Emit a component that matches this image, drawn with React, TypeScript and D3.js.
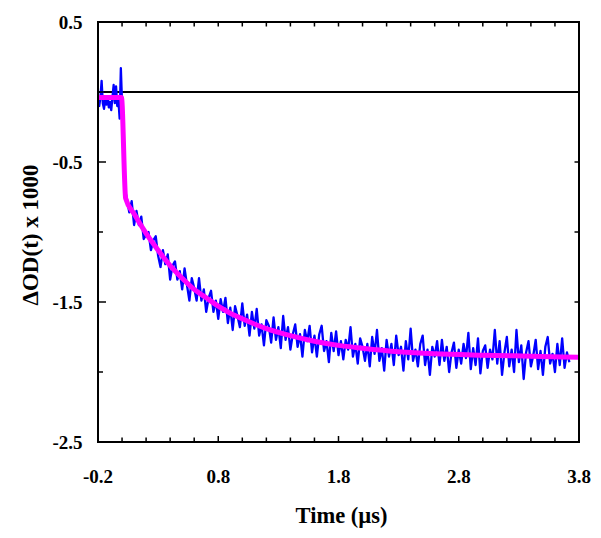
import React from "react";
import * as d3 from "d3";

// ---- data ----
// Pre-trigger trace: t = -0.20 .. 0.02 (step 0.01)
const preTriggerStart = -0.2;
const preTriggerStep = 0.01;
const preTriggerValues = [
  -0.06, -0.1, -0.04, 0.08, -0.08, -0.12, -0.05, -0.09, -0.03, -0.11, -0.07,
  -0.13, -0.04, 0.05, -0.08, 0.04, -0.1, -0.06, -0.19, 0.17, -0.08, -0.35, -0.68,
];
// Decay trace: t = 0.04 .. 3.72 (step 0.02)
const decayStart = 0.04;
const decayStep = 0.02;
const decayValues = [
  -0.76, -0.86, -0.78, -0.95, -0.85, -0.95, -0.89, -1.05, -1.02, -1.0,
  -1.13, -1.06, -1.03, -1.17, -1.25, -1.13, -1.23, -1.16, -1.34, -1.24,
  -1.21, -1.34, -1.28, -1.41, -1.26, -1.38, -1.49, -1.33, -1.4, -1.49,
  -1.33, -1.49, -1.41, -1.57, -1.47, -1.42, -1.57, -1.49, -1.62, -1.48,
  -1.57, -1.47, -1.65, -1.54, -1.7, -1.53, -1.6, -1.68, -1.51, -1.67,
  -1.59, -1.74, -1.57, -1.69, -1.55, -1.74, -1.66, -1.81, -1.63, -1.67,
  -1.79, -1.61, -1.77, -1.68, -1.83, -1.6, -1.77, -1.68, -1.84, -1.73,
  -1.66, -1.82, -1.73, -1.89, -1.7, -1.78, -1.67, -1.86, -1.74, -1.89,
  -1.73, -1.67, -1.85, -1.78, -1.93, -1.72, -1.85, -1.71, -1.88, -1.78,
  -1.91, -1.77, -1.84, -1.68, -1.89, -1.8, -1.94, -1.76, -1.82, -1.92,
  -1.8, -1.96, -1.75, -1.87, -1.7, -1.92, -1.83, -1.99, -1.77, -1.89,
  -1.8, -1.95, -1.74, -1.88, -1.82, -1.99, -1.78, -1.91, -1.69, -1.92,
  -1.84, -1.96, -1.8, -1.74, -1.95, -1.84, -2.02, -1.82, -1.89, -1.78,
  -1.95, -1.77, -1.92, -1.82, -2.0, -1.86, -1.79, -1.97, -1.84, -1.94,
  -1.8, -1.9, -1.72, -1.98, -1.83, -1.95, -1.76, -2.01, -1.85, -1.81,
  -1.97, -1.84, -1.91, -1.7, -1.94, -1.78, -2.02, -1.86, -1.75, -1.96,
  -1.84, -2.0, -1.7, -1.93, -1.81, -2.05, -1.86, -1.78, -1.96, -1.88,
  -1.77, -1.98, -1.85, -2.02, -1.82, -1.75, -1.94, -1.87, -2.0, -1.8,
  -1.95, -1.76, -1.97, -1.86, -1.93,
];
// Fit curve
const fitTimes = [-0.2, -0.005, 0.03, 0.1, 0.2, 0.3, 0.4, 0.5, 0.6, 0.7, 0.8, 0.9, 1.0, 1.2, 1.4, 1.6, 1.8, 2.0, 2.3, 2.6, 3.0, 3.4, 3.8];
const fitValues = [-0.04, -0.04, -0.76, -0.87, -1.01, -1.13, -1.24, -1.33, -1.41, -1.47, -1.53, -1.58, -1.62, -1.69, -1.74, -1.78, -1.81, -1.83, -1.855, -1.87, -1.88, -1.887, -1.895];

const xTickLabels = ["-0.2", "0.8", "1.8", "2.8", "3.8"];
const yTickLabels = ["0.5", "-0.5", "-1.5", "-2.5"];
const xMinorTicks = d3.range(0, 21).map((i) => -0.2 + i * 0.2);
const yMinorTicks = d3.range(0, 7).map((i) => 0.5 - i * 0.5);

const W = 601, H = 538;
const L = 98, R = 579, T = 22, B = 442;

export default function App() {
  const x = d3.scaleLinear().domain([-0.2, 3.8]).range([L, R]);
  const y = d3.scaleLinear().domain([-2.5, 0.5]).range([B, T]);

  const blue: [number, number][] = [
    ...preTriggerValues.map((v, i) => [preTriggerStart + i * preTriggerStep, v] as [number, number]),
    ...decayValues.map((v, i) => [decayStart + i * decayStep, v] as [number, number]),
  ];
  const fit: [number, number][] = fitTimes.map((t, i) => [t, fitValues[i]]);

  const lineLinear = d3.line<[number, number]>().x((d) => x(d[0])).y((d) => y(d[1]));
  const lineFit = d3
    .line<[number, number]>()
    .x((d) => x(d[0]))
    .y((d) => y(d[1]))
    .curve(d3.curveMonotoneX);

  const font = "'Liberation Serif', 'Times New Roman', serif";
  const isMajorX = (v: number) => xTickLabels.some((l) => Math.abs(parseFloat(l) - v) < 1e-6);
  const isMajorY = (v: number) => yTickLabels.some((l) => Math.abs(parseFloat(l) - v) < 1e-6);

  return (
    <svg width={W} height={H} style={{ position: "absolute", left: 0, top: 0, background: "#fff" }}>
      <rect x={0} y={0} width={W} height={H} fill="#fff" />
      {/* zero line */}
      <line x1={L} x2={R} y1={y(0)} y2={y(0)} stroke="#000" strokeWidth={1.8} />
      {/* data */}
      <path d={lineLinear(blue) || ""} fill="none" stroke="#0000ff" strokeWidth={2.3} strokeLinejoin="round" />
      <path d={lineFit(fit) || ""} fill="none" stroke="#ff00ff" strokeWidth={5} strokeLinejoin="round" />
      {/* ticks */}
      {xMinorTicks.map((v, i) => {
        const xx = x(v);
        const major = isMajorX(v);
        return (
          <g key={"xt" + i}>
            <line x1={xx} x2={xx} y1={B} y2={B - (major ? 6 : 4.5)} stroke="#000" strokeWidth={1.5} />
            <line x1={xx} x2={xx} y1={T} y2={T + 4.5} stroke="#000" strokeWidth={1.5} />
          </g>
        );
      })}
      {yMinorTicks.map((v, i) => {
        const yy = y(v);
        const major = isMajorY(v);
        return (
          <g key={"yt" + i}>
            <line x1={L} x2={L + (major ? 8 : 5)} y1={yy} y2={yy} stroke="#000" strokeWidth={1.5} />
            <line x1={R} x2={R - 4.5} y1={yy} y2={yy} stroke="#000" strokeWidth={1.5} />
          </g>
        );
      })}
      {/* frame */}
      <rect x={L} y={T} width={R - L} height={B - T} fill="none" stroke="#000" strokeWidth={2} />
      {/* tick labels */}
      {xTickLabels.map((l) => (
        <text key={"xl" + l} x={x(parseFloat(l))} y={482.5} textAnchor="middle" fontFamily={font} fontWeight="bold" fontSize={19}>
          {l}
        </text>
      ))}
      {yTickLabels.map((l) => (
        <text key={"yl" + l} x={82.5} y={y(parseFloat(l)) + 7} textAnchor="end" fontFamily={font} fontWeight="bold" fontSize={19}>
          {l}
        </text>
      ))}
      {/* axis titles */}
      <text x={(L + R) / 2 + 3} y={523} textAnchor="middle" fontFamily={font} fontWeight="bold" fontSize={22.5}>
        Time (µs)
      </text>
      <text
        transform={`translate(37.5, ${(T + B) / 2 + 3}) rotate(-90)`}
        textAnchor="middle"
        fontFamily={font}
        fontWeight="bold"
        fontSize={23}
      >
        ΔOD(t) x 1000
      </text>
    </svg>
  );
}
